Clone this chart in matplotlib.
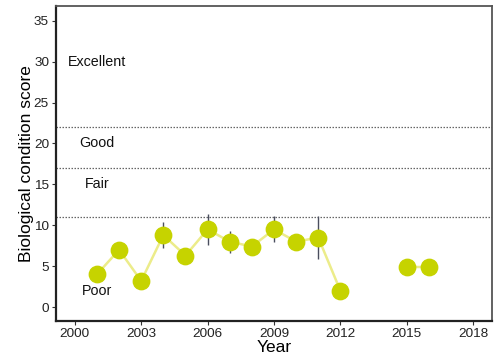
import numpy as np
import matplotlib
matplotlib.use("Agg")
import matplotlib.pyplot as plt

plt.rcParams['font.family'] = ['Liberation Sans', 'DejaVu Sans']

# Annual biological condition scores (NaN = no survey)
years = [2001, 2002, 2003, 2004, 2005, 2006, 2007, 2008, 2009, 2010, 2011, 2012,
         2013, 2014, 2015, 2016]
scores = [4.0, 7.0, 3.2, 8.8, 6.3, 9.5, 8.0, 7.4, 9.5, 8.0, 8.5, 2.0,
          np.nan, np.nan, 4.9, 4.9]
# Error bar ranges (low, high) where reported
err_low = [np.nan, np.nan, np.nan, 7.2, np.nan, 7.6, 6.6, np.nan, 8.0, np.nan, 5.9, np.nan,
           np.nan, np.nan, np.nan, np.nan]
err_high = [np.nan, np.nan, np.nan, 10.4, np.nan, 11.4, 9.3, np.nan, 11.1, np.nan, 11.1, np.nan,
            np.nan, np.nan, np.nan, np.nan]

# Condition thresholds and class labels
thresholds = [22, 17, 11]
class_names = ["Excellent", "Good", "Fair", "Poor"]
class_y = [30, 20, 15, 2]

x_ticks = [2000, 2003, 2006, 2009, 2012, 2015, 2018]
y_ticks = [0, 5, 10, 15, 20, 25, 30, 35]

fig = plt.figure(figsize=(5.02, 3.60), dpi=100)
ax = fig.add_axes([56 / 502, 1 - 321 / 360, (492 - 56) / 502, (321 - 6) / 360])

yrs = np.array(years, dtype=float)
sc = np.array(scores, dtype=float)
lo = np.array(err_low, dtype=float)
hi = np.array(err_high, dtype=float)

for t in thresholds:
    ax.axhline(t, color="#666666", linestyle=(0, (1.2, 1.2)), linewidth=0.9, zorder=1)

ax.plot(yrs, sc, color="#ecec8a", linewidth=1.8, zorder=2)
mask = ~np.isnan(lo)
ax.vlines(yrs[mask], lo[mask], hi[mask], color="#4a4e5e", linewidth=1.0, zorder=3)
ax.plot(yrs, sc, linestyle="none", marker="o", markersize=11.8,
        markerfacecolor="#c6d300", markeredgecolor="#c6d300", zorder=4)

for name, y in zip(class_names, class_y):
    ax.text(2001, y, name, ha="center", va="center", fontsize=10.3, color="#111111")

ax.set_xlim(1999.15, 2018.85)
ax.set_ylim(-1.7, 36.8)
ax.set_xticks(x_ticks)
ax.set_yticks(y_ticks)
ax.tick_params(axis="both", labelsize=9.7, length=3, width=0.8, colors="#333333",
               labelcolor="#222222", pad=2)

for side in ["left", "bottom"]:
    ax.spines[side].set_linewidth(1.6)
    ax.spines[side].set_color("#222222")
for side in ["top", "right"]:
    ax.spines[side].set_linewidth(1.3)
    ax.spines[side].set_color("#555555")

ax.set_xlabel("Year", fontsize=12.5, labelpad=0)
ax.set_ylabel("Biological condition score", fontsize=12.5, labelpad=0)

fig.savefig("out.png", dpi=100)
